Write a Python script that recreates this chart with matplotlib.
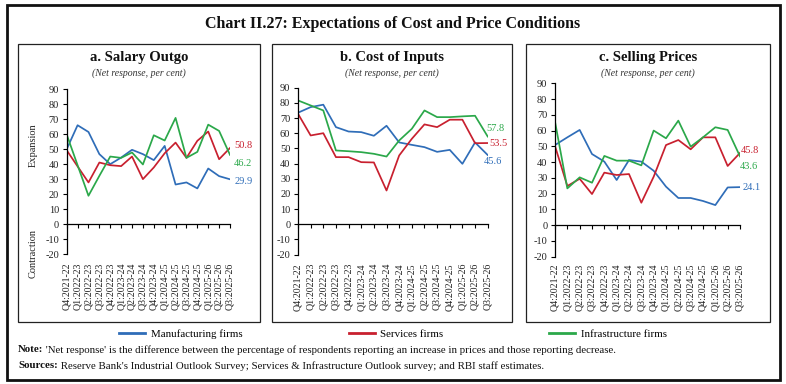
import matplotlib
matplotlib.use("Agg")
from matplotlib import pyplot as plt
from matplotlib.lines import Line2D
from matplotlib.patches import Rectangle

W, H = 786, 384

quarters = ["Q4:2021-22", "Q1:2022-23", "Q2:2022-23", "Q3:2022-23",
            "Q4:2022-23", "Q1:2023-24", "Q2:2023-24", "Q3:2023-24",
            "Q4:2023-24", "Q1:2024-25", "Q2:2024-25", "Q3:2024-25",
            "Q4:2024-25", "Q1:2025-26", "Q2:2025-26", "Q3:2025-26"]

# a. Salary outgo
salary_mfg = [50.0, 66.0, 61.5, 46.7, 40.0, 44.4, 49.6, 46.7, 42.7, 52.2, 26.4, 27.8, 23.8, 37.1, 32.0, 29.9]
salary_srv = [49.3, 38.5, 27.8, 41.1, 39.3, 38.7, 45.1, 30.0, 37.8, 47.3, 54.4, 44.2, 55.6, 61.8, 43.3, 50.8]
salary_inf = [59.8, 39.3, 18.9, 32.2, 45.1, 44.2, 47.8, 39.8, 59.3, 55.8, 70.9, 44.2, 48.2, 66.4, 62.2, 46.2]

# b. Cost of inputs
inputs_mfg = [73.5, 77.2, 78.8, 64.0, 61.1, 60.7, 58.3, 64.9, 53.9, 52.3, 50.8, 47.7, 49.0, 39.8, 53.9, 45.6]
inputs_srv = [72.8, 58.5, 60.0, 44.2, 44.2, 40.9, 40.7, 22.2, 45.3, 56.3, 65.8, 64.0, 68.9, 68.9, 53.4, 53.5]
inputs_inf = [81.6, 78.3, 75.0, 48.6, 48.1, 47.5, 46.4, 44.6, 55.2, 62.9, 75.0, 70.6, 70.6, 71.1, 71.5, 57.8]

# c. Selling prices
prices_mfg = [50.8, 55.7, 60.4, 45.1, 40.3, 28.6, 41.3, 40.3, 34.5, 24.4, 17.2, 17.2, 15.3, 12.7, 23.9, 24.1]
prices_srv = [50.2, 24.8, 29.4, 19.7, 33.3, 31.8, 32.4, 14.2, 30.7, 50.8, 54.0, 48.1, 55.7, 55.7, 37.5, 45.8]
prices_inf = [65.7, 23.3, 30.3, 26.9, 43.9, 40.9, 40.9, 37.9, 60.0, 55.1, 66.3, 49.8, 55.7, 62.1, 60.4, 43.6]

series_names = ["Manufacturing firms", "Services firms", "Infrastructure firms"]

BLUE = "#2F6DB8"
RED = "#C8202F"
GREEN = "#2BA84A"
COLORS = [BLUE, RED, GREEN]
FONT = "Liberation Serif"

plt.rcParams["font.family"] = FONT
plt.rcParams["axes.unicode_minus"] = False


def fx(px):
    return px / W


def fy(py):
    return 1 - py / H


def draw_panel(fig, box, axes_px, title, data, label_offsets):
    # panel frame
    bx0, by0, bx1, by1 = box
    fig.patches.append(Rectangle((fx(bx0), fy(by1)), fx(bx1) - fx(bx0), fy(by0) - fy(by1),
                                 transform=fig.transFigure, fill=False,
                                 edgecolor="#222222", linewidth=0.9))
    cx = (bx0 + bx1) / 2
    fig.text(fx(cx), fy(57), title, ha="center", va="center",
             fontsize=10.5, fontweight="bold", color="#111111")
    fig.text(fx(cx), fy(73), "(Net response, per cent)", ha="center", va="center",
             fontsize=7, style="italic", color="#333333")

    left, top, right, bottom = axes_px
    ax = fig.add_axes([fx(left), fy(bottom), fx(right) - fx(left), fy(top) - fy(bottom)])
    for s in ["top", "right"]:
        ax.spines[s].set_visible(False)
    # moving the spine resets the ticks, so do it before styling them
    ax.spines["bottom"].set_position(("data", 0))
    ax.spines["bottom"].set_linewidth(0.9)
    ax.spines["left"].set_linewidth(0.9)

    x = list(range(len(quarters)))
    for vals, col in zip(data, COLORS):
        ax.plot(x, vals, color=col, linewidth=1.25)
    for vals, col, off in zip(data, COLORS, label_offsets):
        ax.annotate(f"{vals[-1]:.1f}", xy=(x[-1], vals[-1]), xytext=off,
                    textcoords="offset points", ha="left", va="center",
                    fontsize=7.5, color=col)

    ax.set_xlim(0, len(quarters) - 1)
    ax.set_ylim(-20, 90)
    ax.set_yticks(range(-20, 91, 10))
    ax.set_xticks(x)
    ax.set_xticklabels(quarters, rotation=90, fontsize=7.1, color="#222222")
    ax.patch.set_visible(False)
    ax.tick_params(axis="y", direction="out", length=3, width=0.8,
                   labelsize=7.5, pad=2.5, labelcolor="#222222")
    ax.tick_params(axis="x", direction="out", length=3, width=0.8, pad=25)
    return ax


def main():
    fig = plt.figure(figsize=(W / 100, H / 100), dpi=100)

    # outer frame
    fig.patches.append(Rectangle((fx(7), fy(380)), fx(780) - fx(7), fy(5) - fy(380),
                                 transform=fig.transFigure, fill=False,
                                 edgecolor="#111111", linewidth=2.0))
    fig.text(0.5, fy(24), "Chart II.27: Expectations of Cost and Price Conditions",
             ha="center", va="center", fontsize=11.5, fontweight="bold", color="#111111")

    draw_panel(fig, (18, 44, 260, 322), (66.7, 89.3, 230, 254),
               "a. Salary Outgo", [salary_mfg, salary_srv, salary_inf],
               [(3, -1.5), (3, 1.5), (3, -6.5)])
    draw_panel(fig, (272, 44, 512, 322), (298, 87.7, 487.7, 254.5),
               "b. Cost of Inputs", [inputs_mfg, inputs_srv, inputs_inf],
               [(-2.5, -4.5), (1.5, 0), (-1, 5.5)])
    draw_panel(fig, (526, 44, 770, 322), (555, 83.3, 740, 256.6),
               "c. Selling Prices", [prices_mfg, prices_srv, prices_inf],
               [(2, 0), (0.5, 1.5), (0, -7.5)])

    fig.text(fx(33), fy(145), "Expansion", rotation=90, ha="center", va="center",
             fontsize=7.5, color="#222222")
    fig.text(fx(33), fy(254), "Contraction", rotation=90, ha="center", va="center",
             fontsize=7.5, color="#222222")

    handles = [Line2D([], [], color=c, linewidth=2) for c in COLORS]
    fig.legend(handles, series_names, loc="center", bbox_to_anchor=(0.5, fy(334)),
               ncol=3, frameon=False, fontsize=7.8, handlelength=2.4,
               handletextpad=0.5, columnspacing=9.8)

    notes = [("Note:", " 'Net response' is the difference between the percentage of respondents "
                        "reporting an increase in prices and those reporting decrease.", 350),
             ("Sources:", " Reserve Bank's Industrial Outlook Survey; Services & Infrastructure "
                          "Outlook survey; and RBI staff estimates.", 366)]
    fig.canvas.draw()
    renderer = fig.canvas.get_renderer()
    for head, body, ypx in notes:
        t = fig.text(fx(18), fy(ypx), head, ha="left", va="center",
                     fontsize=7.8, fontweight="bold", color="#111111")
        ext = t.get_window_extent(renderer)
        fig.text(ext.x1 / W, fy(ypx), body, ha="left", va="center",
                 fontsize=7.8, color="#111111")

    fig.savefig("out.png", dpi=100)


if __name__ == "__main__":
    main()
